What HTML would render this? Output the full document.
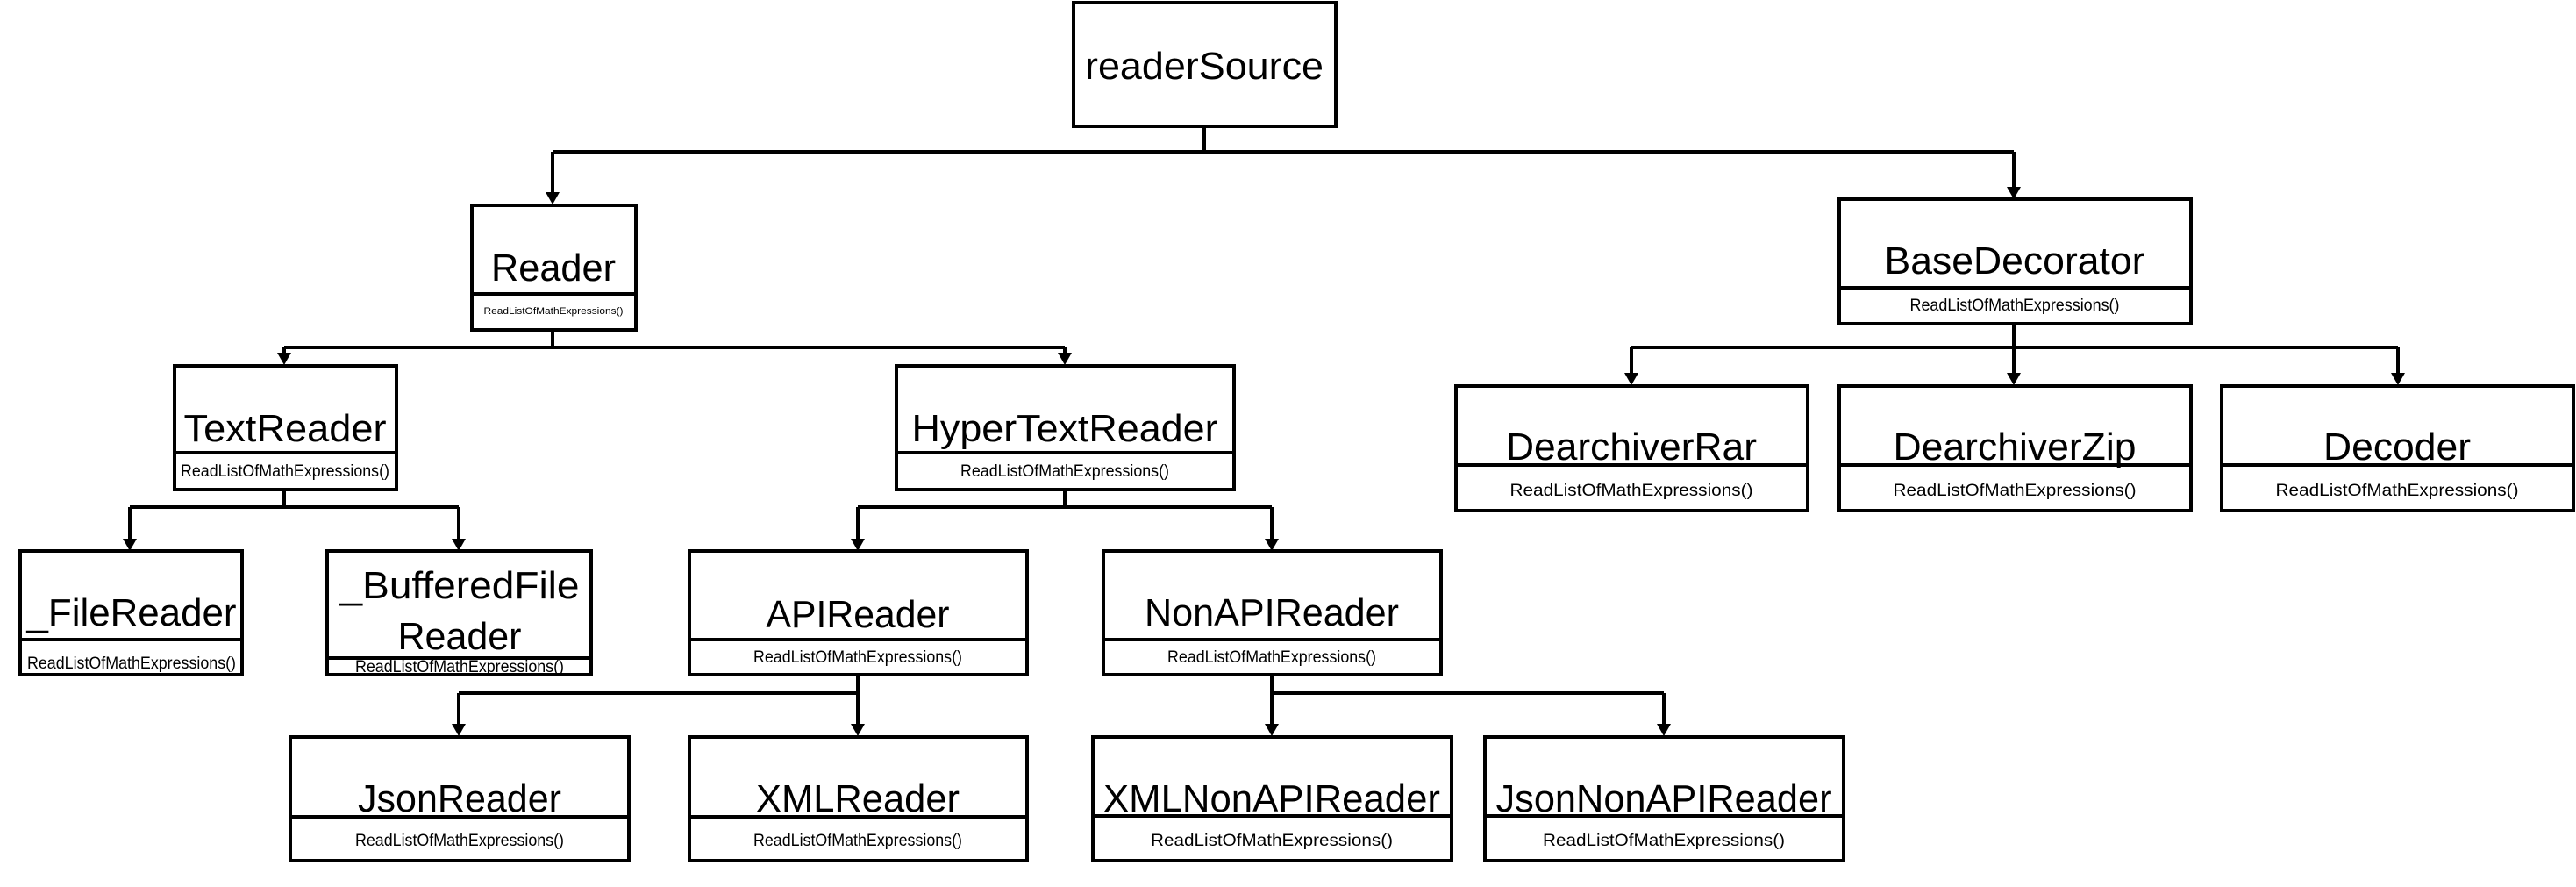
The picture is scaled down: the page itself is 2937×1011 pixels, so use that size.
<!DOCTYPE html>
<html><head><meta charset="utf-8"><style>
html,body{margin:0;padding:0;background:#fff;}
svg{display:block;}
text{font-family:"Liberation Sans",sans-serif;fill:#000;}
.n{font-size:44px;}
.m{font-size:19px;}
</style></head><body>
<svg width="2937" height="1011" viewBox="0 0 2937 1011" xmlns="http://www.w3.org/2000/svg">
<g fill="none" stroke="#000" stroke-width="4">
<path d="M1373,144 V173 M630,173 H2296"/>
<path d="M324,396 H1214"/>
<path d="M630,376 V396"/>
<path d="M324,558 V578 M148,578 H523"/>
<path d="M1214,558 V578 M978,578 H1450"/>
<path d="M978,770 V790 M523,790 H978"/>
<path d="M1450,770 V790 M1450,790 H1897"/>
<path d="M2296,369 V396 M1860,396 H2734"/>
</g>
<g fill="#000">
<path d="M628,173h4v46h-4z M622,219h16l-8,14z"/>
<path d="M2294,173h4v40h-4z M2288,213h16l-8,14z"/>
<path d="M322,396h4v6h-4z M316,402h16l-8,14z"/>
<path d="M1212,396h4v6h-4z M1206,402h16l-8,14z"/>
<path d="M146,578h4v36h-4z M140,614h16l-8,14z"/>
<path d="M521,578h4v36h-4z M515,614h16l-8,14z"/>
<path d="M976,578h4v36h-4z M970,614h16l-8,14z"/>
<path d="M1448,578h4v36h-4z M1442,614h16l-8,14z"/>
<path d="M521,790h4v35h-4z M515,825h16l-8,14z"/>
<path d="M976,770h4v55h-4z M970,825h16l-8,14z"/>
<path d="M1448,770h4v55h-4z M1442,825h16l-8,14z"/>
<path d="M1895,790h4v35h-4z M1889,825h16l-8,14z"/>
<path d="M1858,396h4v29h-4z M1852,425h16l-8,14z"/>
<path d="M2294,396h4v29h-4z M2288,425h16l-8,14z"/>
<path d="M2732,396h4v29h-4z M2726,425h16l-8,14z"/>
</g>
<g fill="#fff" stroke="#000" stroke-width="4">
<rect x="1224" y="3" width="299" height="141"/>
<rect x="538" y="234" width="187" height="142"/><line x1="538" y1="335" x2="725" y2="335"/>
<rect x="199" y="417" width="253" height="141"/><line x1="199" y1="516" x2="452" y2="516"/>
<rect x="1022" y="417" width="385" height="141"/><line x1="1022" y1="516" x2="1407" y2="516"/>
<rect x="23" y="628" width="253" height="141"/><line x1="23" y1="729" x2="276" y2="729"/>
<rect x="373" y="628" width="301" height="141"/><line x1="373" y1="750" x2="674" y2="750"/>
<rect x="786" y="628" width="385" height="141"/><line x1="786" y1="729" x2="1171" y2="729"/>
<rect x="1258" y="628" width="385" height="141"/><line x1="1258" y1="729" x2="1643" y2="729"/>
<rect x="331" y="840" width="386" height="141"/><line x1="331" y1="931" x2="717" y2="931"/>
<rect x="786" y="840" width="385" height="141"/><line x1="786" y1="931" x2="1171" y2="931"/>
<rect x="1246" y="840" width="409" height="141"/><line x1="1246" y1="930" x2="1655" y2="930"/>
<rect x="1693" y="840" width="409" height="141"/><line x1="1693" y1="930" x2="2102" y2="930"/>
<rect x="2097" y="227" width="401" height="142"/><line x1="2097" y1="328" x2="2498" y2="328"/>
<rect x="1660" y="440" width="401" height="142"/><line x1="1660" y1="530" x2="2061" y2="530"/>
<rect x="2097" y="440" width="401" height="142"/><line x1="2097" y1="530" x2="2498" y2="530"/>
<rect x="2533" y="440" width="401" height="142"/><line x1="2533" y1="530" x2="2934" y2="530"/>
</g>
<g text-anchor="middle">
<text class="n" x="1373" y="90" font-size="50" textLength="272" lengthAdjust="spacingAndGlyphs">readerSource</text>
<text class="n" x="631" y="320" textLength="142" lengthAdjust="spacingAndGlyphs">Reader</text>
<text x="631" y="358" font-size="11" textLength="159" lengthAdjust="spacingAndGlyphs">ReadListOfMathExpressions()</text>
<text class="n" x="325" y="503" textLength="231" lengthAdjust="spacingAndGlyphs">TextReader</text>
<text class="m" x="325" y="543" textLength="238" lengthAdjust="spacingAndGlyphs">ReadListOfMathExpressions()</text>
<text class="n" x="1214" y="503" textLength="349" lengthAdjust="spacingAndGlyphs">HyperTextReader</text>
<text class="m" x="1214" y="543" textLength="238" lengthAdjust="spacingAndGlyphs">ReadListOfMathExpressions()</text>
<text class="n" x="150" y="713" textLength="239" lengthAdjust="spacingAndGlyphs">_FileReader</text>
<text class="m" x="150" y="762" textLength="238" lengthAdjust="spacingAndGlyphs">ReadListOfMathExpressions()</text>
<text class="n" x="524" y="682" textLength="273" lengthAdjust="spacingAndGlyphs">_BufferedFile</text>
<text class="n" x="524" y="740" textLength="141" lengthAdjust="spacingAndGlyphs">Reader</text>
<text class="m" x="524" y="766" textLength="238" lengthAdjust="spacingAndGlyphs">ReadListOfMathExpressions()</text>
<text class="n" x="978" y="715" textLength="209" lengthAdjust="spacingAndGlyphs">APIReader</text>
<text class="m" x="978" y="755" textLength="238" lengthAdjust="spacingAndGlyphs">ReadListOfMathExpressions()</text>
<text class="n" x="1450" y="713" textLength="290" lengthAdjust="spacingAndGlyphs">NonAPIReader</text>
<text class="m" x="1450" y="755" textLength="238" lengthAdjust="spacingAndGlyphs">ReadListOfMathExpressions()</text>
<text class="n" x="524" y="925" textLength="232" lengthAdjust="spacingAndGlyphs">JsonReader</text>
<text class="m" x="524" y="964" textLength="238" lengthAdjust="spacingAndGlyphs">ReadListOfMathExpressions()</text>
<text class="n" x="978" y="925" textLength="232" lengthAdjust="spacingAndGlyphs">XMLReader</text>
<text class="m" x="978" y="964" textLength="238" lengthAdjust="spacingAndGlyphs">ReadListOfMathExpressions()</text>
<text class="n" x="1450" y="925" textLength="384" lengthAdjust="spacingAndGlyphs">XMLNonAPIReader</text>
<text class="m" x="1450" y="964" textLength="276" lengthAdjust="spacingAndGlyphs">ReadListOfMathExpressions()</text>
<text class="n" x="1897" y="925" textLength="383" lengthAdjust="spacingAndGlyphs">JsonNonAPIReader</text>
<text class="m" x="1897" y="964" textLength="276" lengthAdjust="spacingAndGlyphs">ReadListOfMathExpressions()</text>
<text class="n" x="2297" y="312" textLength="297" lengthAdjust="spacingAndGlyphs">BaseDecorator</text>
<text class="m" x="2297" y="354" textLength="239" lengthAdjust="spacingAndGlyphs">ReadListOfMathExpressions()</text>
<text class="n" x="1860" y="524" textLength="286" lengthAdjust="spacingAndGlyphs">DearchiverRar</text>
<text class="m" x="1860" y="565" textLength="277" lengthAdjust="spacingAndGlyphs">ReadListOfMathExpressions()</text>
<text class="n" x="2297" y="524" textLength="277" lengthAdjust="spacingAndGlyphs">DearchiverZip</text>
<text class="m" x="2297" y="565" textLength="277" lengthAdjust="spacingAndGlyphs">ReadListOfMathExpressions()</text>
<text class="n" x="2733" y="524" textLength="168" lengthAdjust="spacingAndGlyphs">Decoder</text>
<text class="m" x="2733" y="565" textLength="277" lengthAdjust="spacingAndGlyphs">ReadListOfMathExpressions()</text>
</g>
</svg>
</body></html>
